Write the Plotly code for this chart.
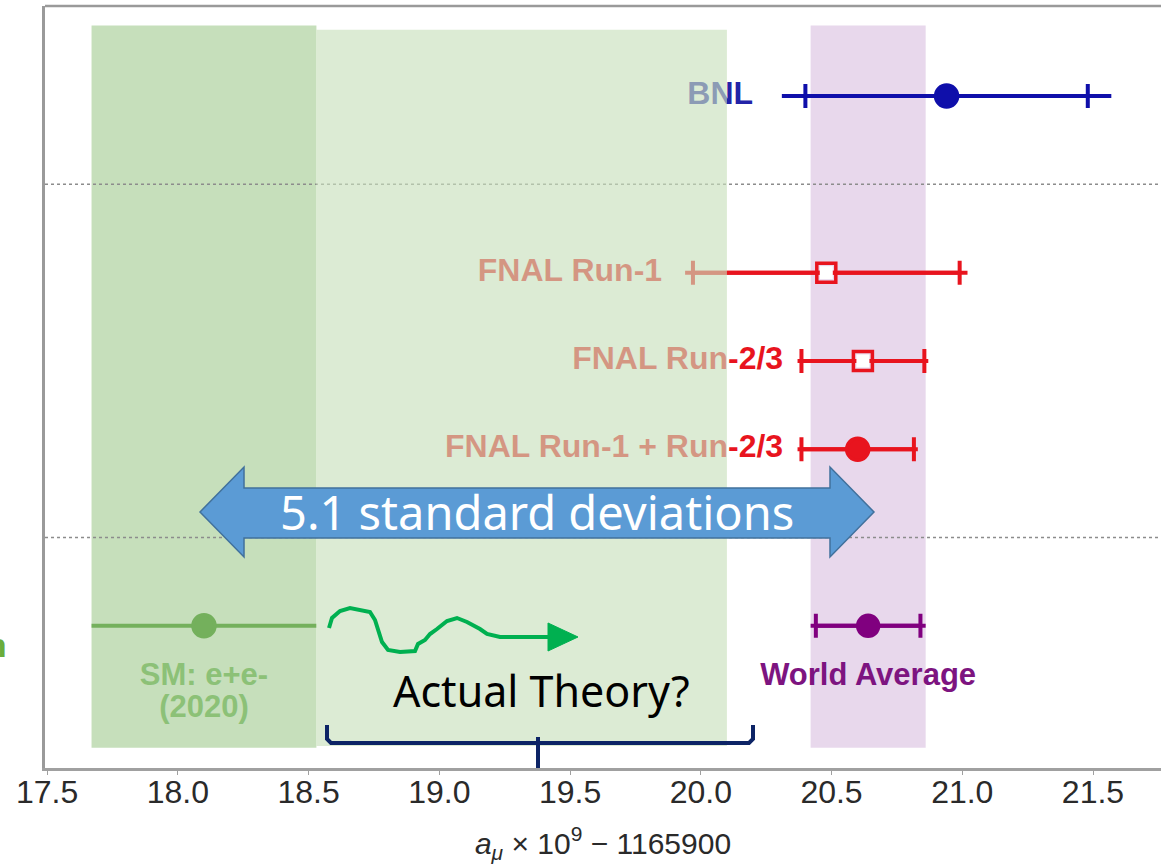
import plotly.graph_objects as go

# ---- data: a_mu x 1e9 - 1165900 ----
names = ["BNL", "FNAL Run-1", "FNAL Run-2/3", "FNAL Run-1 + Run-2/3", "World Average", "SM: e+e-"]
values = [20.94, 20.48, 20.62, 20.60, 20.64, 18.10]
stat_err = [0.54, 0.51, 0.235, 0.215, 0.20, 0.0]
total_err = [0.63, 0.54, 0.25, 0.23, 0.22, 0.43]
tick_vals = [17.5, 18.0, 18.5, 19.0, 19.5, 20.0, 20.5, 21.0, 21.5]

# ---- layout of the rows ----
row_y = [7, 5, 4, 3, 1, 1]
colors = ["#0f0faa", "#e8141e", "#e8141e", "#e8141e", "#80007f", "#74b05c"]
label_colors = ["#2323a8", "#e8141e", "#e8141e", "#e8141e", "#7d1480", "#8cc177"]
symbols = ["circle", "square-open", "square-open", "circle", "circle", "circle"]
marker_sizes = [22, 19, 19, 22, 21, 22]
side_label_x = [20.20, 19.852, 20.315, 20.315]   # right edge of the row labels

X_RANGE = [17.492, 21.76]
Y_RANGE = [-0.61, 8.02]

# pixel frame of the plotting area (for the hand-drawn overlay)
PL, PR, PT, PB = 45, 1161, 6, 768


def to_paper(x, y):
    return (x - PL) / (PR - PL), (PB - y) / (PB - PT)


def svg_path(points, close=False):
    pts = [to_paper(x, y) for x, y in points]
    s = "M " + " L ".join(f"{a:.5f},{b:.5f}" for a, b in pts)
    return s + (" Z" if close else "")


fig = go.Figure()
LABEL_FONT = "Liberation Sans, Arial, sans-serif"
HAND_FONT = "Noto Sans, sans-serif"

# error bars: full line for total uncertainty, caps at the statistical one
for i, v in enumerate(values):
    fig.add_trace(go.Scatter(
        x=[v - total_err[i], v + total_err[i]], y=[row_y[i], row_y[i]],
        mode="lines", line=dict(color=colors[i], width=4), hoverinfo="skip"))
    err = dict(type="data", array=[stat_err[i]], color=colors[i], thickness=4, width=12,
               visible=stat_err[i] > 0)
    fig.add_trace(go.Scatter(
        x=[v], y=[row_y[i]], mode="markers", error_x=err,
        marker=dict(symbol=symbols[i], size=marker_sizes[i], color=colors[i],
                    line=dict(color=colors[i], width=3.5)),
        hoverinfo="skip"))
    if symbols[i] == "square-open":
        # white fill inside the open squares
        fig.add_trace(go.Scatter(
            x=[v], y=[row_y[i]], mode="markers",
            marker=dict(symbol="square", size=marker_sizes[i] - 6, color="white"),
            hoverinfo="skip"))

# row labels to the left of the FNAL/BNL points
for i in range(4):
    fig.add_trace(go.Scatter(
        x=[side_label_x[i]], y=[row_y[i]], mode="text", text=[f"<b>{names[i]}</b>"],
        textposition="middle left",
        textfont=dict(family=LABEL_FONT, size=32, color=label_colors[i]), hoverinfo="skip"))

# labels under the world average and the SM points
fig.add_trace(go.Scatter(
    x=[values[4]], y=[0.42], mode="text", text=[f"<b>{names[4]}</b>"],
    textposition="middle center",
    textfont=dict(family=LABEL_FONT, size=31, color=label_colors[4]), hoverinfo="skip"))
fig.add_trace(go.Scatter(
    x=[values[5], values[5]], y=[0.42, 0.05], mode="text",
    text=[f"<b>{names[5]}</b>", "<b>(2020)</b>"], textposition="middle center",
    textfont=dict(family=LABEL_FONT, size=31, color=label_colors[5]), hoverinfo="skip"))

shapes = []
# SM band and world-average band
shapes.append(dict(type="rect", xref="x", yref="y", layer="below",
                   x0=values[5] - total_err[5], x1=values[5] + total_err[5], y0=-0.38, y1=7.80,
                   fillcolor="#c6dfbb", line=dict(width=0)))
shapes.append(dict(type="rect", xref="x", yref="y", layer="below",
                   x0=values[4] - total_err[4], x1=values[4] + total_err[4], y0=-0.38, y1=7.80,
                   fillcolor="#e8d8ec", line=dict(width=0)))
# group separators
for ys in (6, 2):
    shapes.append(dict(type="line", xref="x", yref="y", layer="below",
                       x0=X_RANGE[0], x1=X_RANGE[1], y0=ys, y1=ys,
                       line=dict(color="#8c8c8c", width=1.5, dash="3px,3px")))
# translucent green region over the plot
shapes.append(dict(type="rect", xref="x", yref="y", layer="above",
                   x0=values[5] + total_err[5], x1=20.10, y0=-0.36, y1=7.75,
                   fillcolor="rgba(200,224,187,0.64)", line=dict(width=0)))
# top frame
shapes.append(dict(type="line", xref="paper", yref="paper", x0=0, x1=1, y0=1, y1=1,
                   line=dict(color="#9a9a9a", width=2.5)))

# double-headed block arrow
arrow = [(200, 512), (244, 467), (244, 488), (830, 488), (830, 467), (874, 512),
         (830, 557), (830, 538), (244, 538), (244, 557)]
shapes.append(dict(type="path", xref="paper", yref="paper", path=svg_path(arrow, True),
                   fillcolor="#5b9bd5", line=dict(color="#41719c", width=1.5)))

# green hand-drawn squiggle with arrow head
squiggle = [(329, 628), (332, 618), (340, 611), (350, 608), (370, 612), (375, 620),
            (382, 642), (388, 650), (400, 652), (415, 651), (418, 644), (425, 640),
            (430, 634), (437, 629), (447, 621), (457, 618), (467, 622), (480, 629),
            (487, 634), (500, 637), (550, 637)]
shapes.append(dict(type="path", xref="paper", yref="paper", path=svg_path(squiggle),
                   line=dict(color="#00b050", width=4)))
shapes.append(dict(type="path", xref="paper", yref="paper",
                   path=svg_path([(548, 623), (578, 637), (548, 651)], True),
                   fillcolor="#00b050", line=dict(color="#00b050", width=1)))

# navy bracket
bracket = [(327, 725), (327, 739), (331, 743), (749, 743), (753, 739), (753, 725)]
shapes.append(dict(type="path", xref="paper", yref="paper", path=svg_path(bracket),
                   line=dict(color="#0d2466", width=4)))
shapes.append(dict(type="path", xref="paper", yref="paper",
                   path=svg_path([(538, 737), (538, 768)]),
                   line=dict(color="#0d2466", width=4)))

annotations = []
ax, ay = to_paper(537, 512)
annotations.append(dict(x=ax, y=ay, xref="paper", yref="paper", showarrow=False,
                        xanchor="center", yanchor="middle",
                        text="5.1 standard deviations",
                        font=dict(family=HAND_FONT, size=47, color="white")))
tx, ty = to_paper(541, 690)
annotations.append(dict(x=tx, y=ty, xref="paper", yref="paper", showarrow=False,
                        xanchor="center", yanchor="middle",
                        text="Actual Theory?",
                        font=dict(family=HAND_FONT, size=43, color="black")))
nx, ny = to_paper(9, 644)
annotations.append(dict(x=nx, y=ny, xref="paper", yref="paper", showarrow=False,
                        xanchor="right", yanchor="middle", text="<b>n</b>",
                        font=dict(family=HAND_FONT, size=32, color="#6aad3c")))

fig.update_layout(
    width=1161, height=864, autosize=False,
    margin=dict(l=PL, r=0, t=PT, b=864 - PB),
    paper_bgcolor="white", plot_bgcolor="white",
    showlegend=False, hovermode=False,
    shapes=shapes, annotations=annotations,
    xaxis=dict(range=X_RANGE, tickvals=tick_vals, ticktext=[f"{t:.1f}" for t in tick_vals],
               showgrid=False, zeroline=False, showline=True, linecolor="#a0a0a0", linewidth=2.5,
               ticks="outside", ticklen=4, tickcolor="#a0a0a0", ticklabelstandoff=-10,
               tickfont=dict(family=LABEL_FONT, size=32, color="#2a2a2a"),
               title=dict(text="<i>a</i><sub><i>μ</i></sub> × 10<sup>9</sup> − 1165900",
                          font=dict(family=LABEL_FONT, size=30, color="#2a2a2a"), standoff=26)),
    yaxis=dict(range=Y_RANGE, showgrid=False, zeroline=False, showticklabels=False,
               showline=True, linecolor="#9a9a9a", linewidth=2.5, ticks=""),
)

fig.write_html("out.html")
